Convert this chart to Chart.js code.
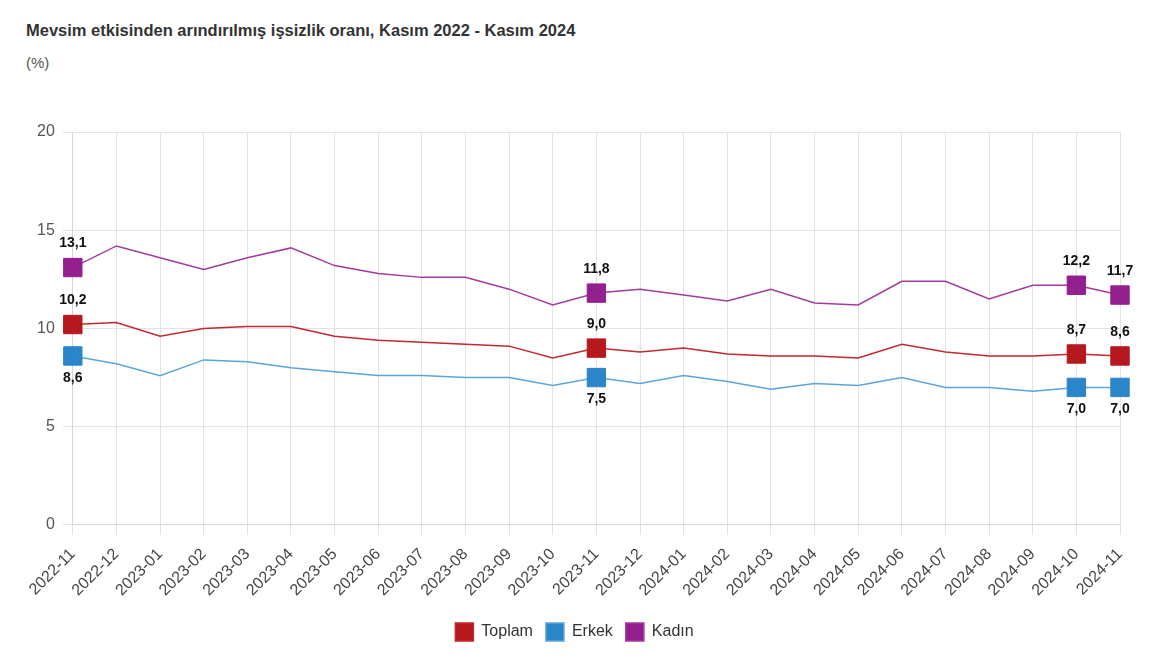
<!DOCTYPE html>
<html lang="tr">
<head>
<meta charset="utf-8">
<title>Mevsim etkisinden arındırılmış işsizlik oranı</title>
<script src="https://cdn.jsdelivr.net/npm/chart.js@4.4.1/dist/chart.umd.min.js"></script>
<style>
  html, body { margin: 0; padding: 0; background: #fff; }
  body { width: 1170px; height: 666px; position: relative; overflow: hidden; font-family: "Liberation Sans", Arial, sans-serif; }
  #title { position: absolute; left: 26px; top: 21px; font-size: 16.5px; font-weight: bold; color: #333; }
  #unit { position: absolute; left: 26px; top: 54px; font-size: 15px; color: #555; }
  #wrap { position: absolute; left: 0; top: 0; width: 1170px; height: 666px; }
</style>
</head>
<body>
<div id="title">Mevsim etkisinden arındırılmış işsizlik oranı, Kasım 2022 - Kasım 2024</div>
<div id="unit">(%)</div>
<div id="wrap"><canvas id="chart"></canvas></div>
<script>
  // Data
  const months = [
    "2022-11", "2022-12", "2023-01", "2023-02", "2023-03", "2023-04", "2023-05",
    "2023-06", "2023-07", "2023-08", "2023-09", "2023-10", "2023-11", "2023-12",
    "2024-01", "2024-02", "2024-03", "2024-04", "2024-05", "2024-06", "2024-07",
    "2024-08", "2024-09", "2024-10", "2024-11"
  ];
  const toplam = [10.2, 10.3, 9.6, 10.0, 10.1, 10.1, 9.6, 9.4, 9.3, 9.2, 9.1, 8.5, 9.0,
                  8.8, 9.0, 8.7, 8.6, 8.6, 8.5, 9.2, 8.8, 8.6, 8.6, 8.7, 8.6];
  const erkek = [8.6, 8.2, 7.6, 8.4, 8.3, 8.0, 7.8, 7.6, 7.6, 7.5, 7.5, 7.1, 7.5,
                 7.2, 7.6, 7.3, 6.9, 7.2, 7.1, 7.5, 7.0, 7.0, 6.8, 7.0, 7.0];
  const kadin = [13.1, 14.2, 13.6, 13.0, 13.6, 14.1, 13.2, 12.8, 12.6, 12.6, 12.0, 11.2, 11.8,
                 12.0, 11.7, 11.4, 12.0, 11.3, 11.2, 12.4, 12.4, 11.5, 12.2, 12.2, 11.7];
  const yTicks = [0, 5, 10, 15, 20];
  const markedPoints = [0, 12, 23, 24];

  // Colors
  const colors = {
    toplam: { line: "#c3282e", marker: "#b5181d" },
    erkek: { line: "#5ca5dc", marker: "#2b85c9" },
    kadin: { line: "#a33a9e", marker: "#941f8e" },
  };
  const FONT = "'Liberation Sans', Arial, sans-serif";

  function markerRadius(ctx) {
    return markedPoints.includes(ctx.dataIndex) ? 13 : 0;
  }

  function makeDataset(label, data, c, labelSide) {
    return {
      label: label,
      data: data,
      borderColor: c.line,
      backgroundColor: c.marker,
      borderWidth: 1.5,
      pointStyle: "rect",
      pointRadius: markerRadius,
      pointHoverRadius: markerRadius,
      pointBackgroundColor: c.marker,
      pointBorderColor: c.marker,
      pointBorderWidth: 1,
      tension: 0,
      labelSide: labelSide,
    };
  }

  // Value labels on marked points
  const valueLabels = {
    id: "valueLabels",
    afterDatasetsDraw(chart) {
      const ctx = chart.ctx;
      ctx.save();
      ctx.font = "bold 14px " + FONT;
      ctx.fillStyle = "#111";
      ctx.textAlign = "center";
      ctx.textBaseline = "middle";
      chart.data.datasets.forEach((ds, i) => {
        const meta = chart.getDatasetMeta(i);
        markedPoints.forEach((idx) => {
          const pt = meta.data[idx];
          const txt = ds.data[idx].toFixed(1).replace(".", ",");
          const dy = ds.labelSide === "below" ? 22 : -24;
          ctx.fillText(txt, pt.x, pt.y + dy);
        });
      });
      ctx.restore();
    },
  };

  const ctx = document.getElementById("chart").getContext("2d");
  new Chart(ctx, {
    type: "line",
    data: {
      labels: months,
      datasets: [
        makeDataset("Toplam", toplam, colors.toplam, "above"),
        makeDataset("Erkek", erkek, colors.erkek, "below"),
        makeDataset("Kadın", kadin, colors.kadin, "above"),
      ],
    },
    options: {
      responsive: true,
      maintainAspectRatio: false,
      animation: false,
      layout: { padding: { top: 132, left: 29, right: 50, bottom: 15 } },
      plugins: {
        legend: {
          position: "bottom",
          labels: {
            boxWidth: 18,
            boxHeight: 18,
            color: "#333",
            padding: 13,
            font: { size: 16, family: FONT },
          },
        },
        tooltip: { enabled: false },
      },
      scales: {
        x: {
          offset: false,
          grid: { color: "#e3e3e3", tickLength: 10, drawTicks: true },
          border: { color: "#d6d6d6" },
          ticks: {
            minRotation: 45,
            maxRotation: 45,
            autoSkip: false,
            color: "#444",
            padding: 10,
            font: { size: 16, family: FONT },
          },
        },
        y: {
          min: 0,
          max: 20,
          afterBuildTicks(axis) {
            axis.ticks = yTicks.map((v) => ({ value: v }));
          },
          grid: { color: "#e3e3e3", tickLength: 10 },
          border: { color: "#d6d6d6" },
          ticks: {
            color: "#555",
            padding: 8,
            font: { size: 16, family: FONT },
          },
        },
      },
    },
    plugins: [valueLabels],
  });
</script>
</body>
</html>
